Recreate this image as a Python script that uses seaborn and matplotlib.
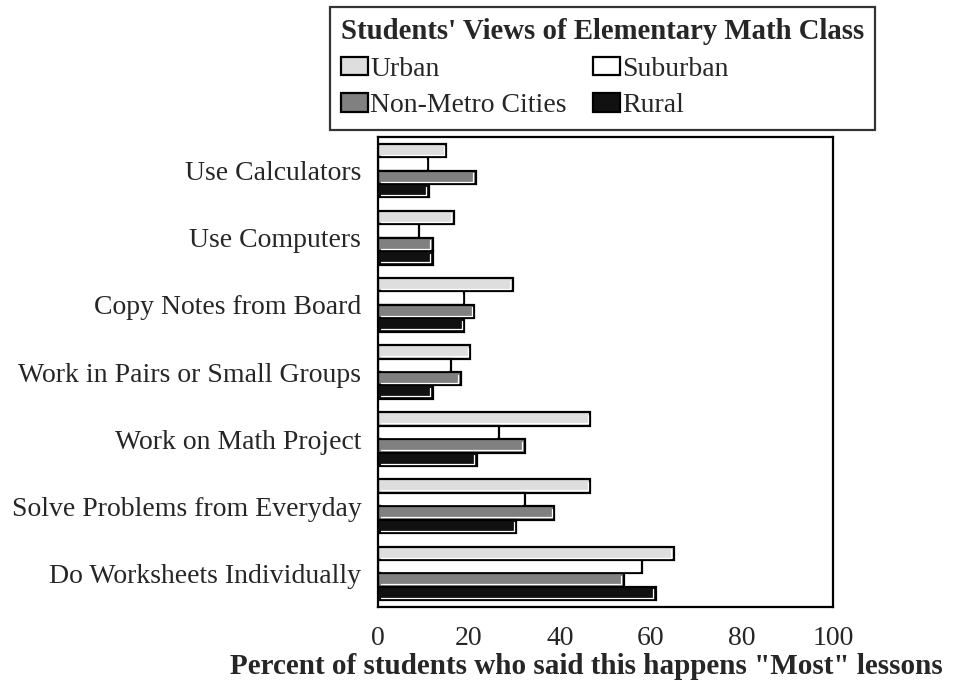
import numpy as np
import pandas as pd
import matplotlib
matplotlib.use("Agg")
import matplotlib.pyplot as plt
from matplotlib.patches import Patch
from matplotlib.lines import Line2D
from matplotlib.transforms import IdentityTransform
import seaborn as sns

categories = ["Use Calculators", "Use Computers", "Copy Notes from Board",
              "Work in Pairs or Small Groups", "Work on Math Project",
              "Solve Problems from Everyday", "Do Worksheets Individually"]
regions = ["Urban", "Suburban", "Non-Metro Cities", "Rural"]
urban = [15.0, 16.7, 29.6, 20.3, 46.6, 46.6, 65.0]
suburban = [11.0, 9.0, 19.0, 16.0, 26.5, 32.2, 58.0]
nonmetro = [21.5, 12.0, 21.2, 18.2, 32.2, 38.7, 54.0]
rural = [11.2, 12.0, 19.0, 12.0, 21.7, 30.4, 61.0]
xticks = [0, 20, 40, 60, 80, 100]

colors = {"Urban": "#dedede", "Suburban": "#ffffff",
          "Non-Metro Cities": "#808080", "Rural": "#111111"}

rows = []
for series, name in zip([urban, suburban, nonmetro, rural], regions):
    for c, v in zip(categories, series):
        rows.append({"Activity": c, "Region": name, "Percent": v})
df = pd.DataFrame(rows)

sns.set_theme(style="white")
plt.rcParams["font.family"] = ["Liberation Serif", "DejaVu Serif"]

fig = plt.figure(figsize=(9.61, 6.93), dpi=100)
ax = fig.add_axes([378/961, 1-607/693, (833-378)/961, (607-137)/693])

sns.barplot(data=df, x="Percent", y="Activity", hue="Region", order=categories,
            hue_order=regions, palette=colors, saturation=1, orient="h",
            edgecolor="black", linewidth=1.6, width=0.8, gap=0, legend=False, ax=ax)

ax.set_xlim(0, 100)
ax.set_ylim(6.5, -0.5)
ax.set_xticks(xticks)
ax.set_xticklabels([str(t) for t in xticks], fontsize=20)
ax.tick_params(axis="x", length=0, pad=14)
ax.tick_params(axis="y", length=0, pad=12, labelsize=20)
ax.set_ylabel("")
ax.set_xlabel('Percent of students who said this happens "Most" lessons',
              fontsize=21, fontweight="bold")
ax.xaxis.label.set_horizontalalignment("left")
ax.xaxis.label.set_verticalalignment("center")
ax.xaxis.set_label_coords((230 - 378) / 455, -(667 - 607) / 470)
for s in ax.spines.values():
    s.set_visible(True)
    s.set_color("black")
    s.set_linewidth(1.6)

# white bevel highlight inside right and bottom edges of each bar
fig.canvas.draw()
for p in ax.patches:
    if p.get_width() <= 0:
        continue
    bb = p.get_window_extent()
    x0, x1 = bb.x0, bb.x1
    y0, y1 = bb.y0, bb.y1
    ax.add_artist(Line2D([x1 - 2.5, x1 - 2.5], [y0 + 2.5, y1 - 2.5], color="white",
                         lw=0.9, transform=IdentityTransform(), zorder=5))
    ax.add_artist(Line2D([x0 + 2.5, x1 - 2.5], [y0 + 2.5, y0 + 2.5], color="white",
                         lw=0.9, transform=IdentityTransform(), zorder=5))

handles = [Patch(facecolor=colors[r], edgecolor="black", linewidth=1.6, label=r)
           for r in regions]
order = [0, 2, 1, 3]
leg = fig.legend([handles[i] for i in order], [regions[i] for i in order],
                 loc="upper left", bbox_to_anchor=(330/961, 1-7/693), ncol=2,
                 title="Students' Views of Elementary Math Class",
                 title_fontproperties={"weight": "bold", "size": 20.7,
                                       "family": "Liberation Serif"},
                 prop={"size": 20, "family": "Liberation Serif"},
                 frameon=True, fancybox=False, edgecolor="black",
                 handlelength=0.95, handleheight=0.65, handletextpad=0.1,
                 columnspacing=0.95, labelspacing=0.42, borderpad=0.4,
                 borderaxespad=0, alignment="left")
leg.get_frame().set_linewidth(1.6)

fig.savefig("out.png", dpi=100)
